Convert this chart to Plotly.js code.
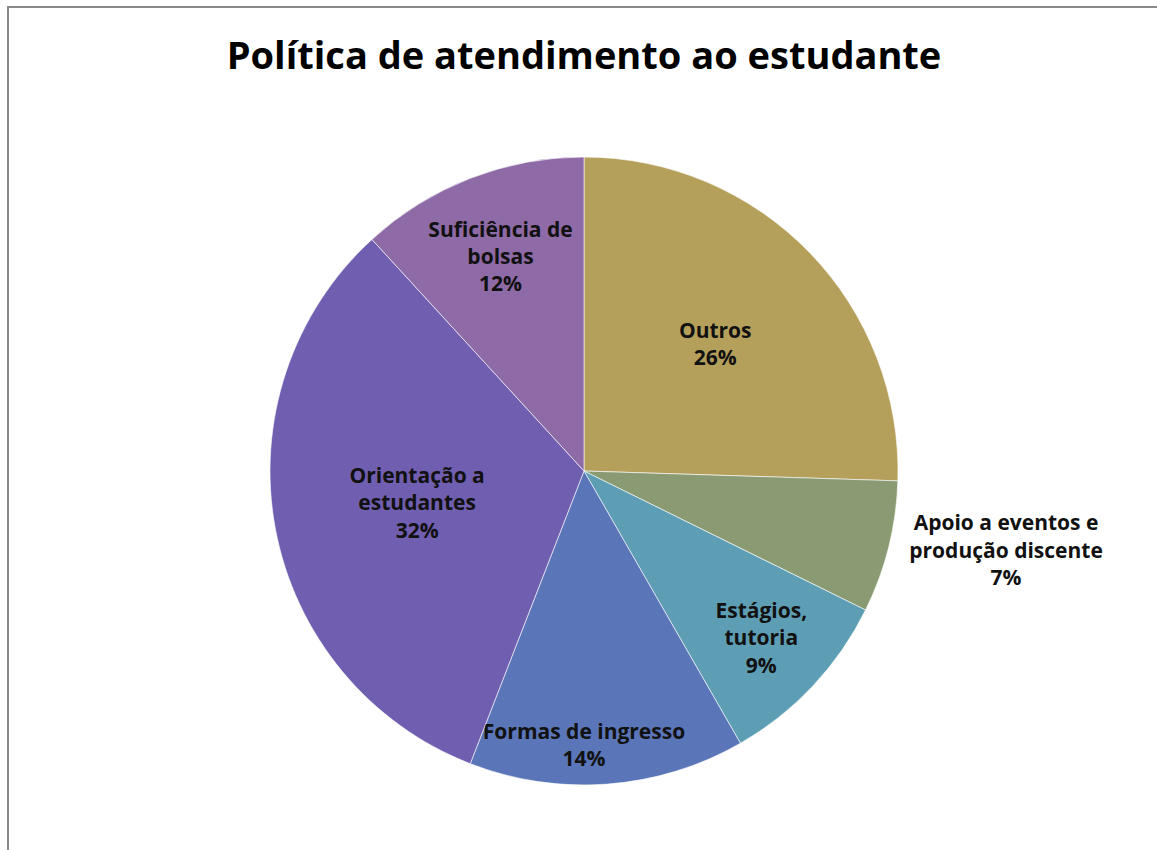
<!DOCTYPE html>
<html>
<head>
<meta charset="utf-8">
<script src="https://cdn.plot.ly/plotly-3.0.1.min.js"></script>
<style>
  html, body { margin: 0; padding: 0; background: #ffffff; overflow: hidden; }
  #chart { position: absolute; left: 0; top: 0; width: 1157px; height: 850px; }
  #frame { position: absolute; left: 7px; top: 6px; width: 1200px; height: 900px;
           border-left: 2px solid #8a8a8a; border-top: 2px solid #8a8a8a; pointer-events: none; }
</style>
</head>
<body>
<div id="chart"></div>
<div id="frame"></div>
<script>
// Categories (in drawing order, clockwise from 12 o'clock)
const categories = [
  "Outros",
  "Apoio a eventos e produção discente",
  "Estágios, tutoria",
  "Formas de ingresso",
  "Orientação a estudantes",
  "Suficiência de bolsas"
];
// Label text as displayed (with line breaks)
const displayLabels = [
  "Outros",
  "Apoio a eventos e<br>produção discente",
  "Estágios,<br>tutoria",
  "Formas de ingresso",
  "Orientação a<br>estudantes",
  "Suficiência de<br>bolsas"
];
// Shares (percent)
const values = [25.5, 6.8, 9.4, 14.2, 32.3, 11.8];
const colors = ["#B5A05B", "#8A9A72", "#5E9EB4", "#5B76B8", "#705EB0", "#8E6AA6"];
const textPositions = ["inside", "outside", "inside", "inside", "inside", "inside"];

const FONT = "'Open Sans', sans-serif";

const trace = {
  type: "pie",
  labels: categories,
  values: values,
  text: displayLabels,
  texttemplate: "%{text}<br>%{percent:.0%}",
  textinfo: "text+percent",
  textposition: textPositions,
  insidetextorientation: "horizontal",
  sort: false,
  direction: "clockwise",
  rotation: 0,
  marker: { colors: colors, line: { color: "rgba(255,255,255,0.6)", width: 1 } },
  insidetextfont: { family: FONT, size: 21, color: "#111111", weight: "bold" },
  outsidetextfont: { family: FONT, size: 21, color: "#111111", weight: "bold" },
  hoverinfo: "label+percent",
  showlegend: false
};

const layout = {
  width: 1157,
  height: 850,
  margin: { l: 270, r: 259, t: 157, b: 65, pad: 0 },
  paper_bgcolor: "#ffffff",
  plot_bgcolor: "#ffffff",
  showlegend: false,
  uniformtext: { minsize: 21, mode: "show" },
  title: {
    text: "<b>Política de atendimento ao estudante</b>",
    font: { family: FONT, size: 38, color: "#000000" },
    x: 0.5, xref: "paper", xanchor: "center",
    y: 1 - 56 / 850, yref: "container", yanchor: "middle"
  }
};

Plotly.newPlot("chart", [trace], layout, { displayModeBar: false, staticPlot: true });
</script>
</body>
</html>
